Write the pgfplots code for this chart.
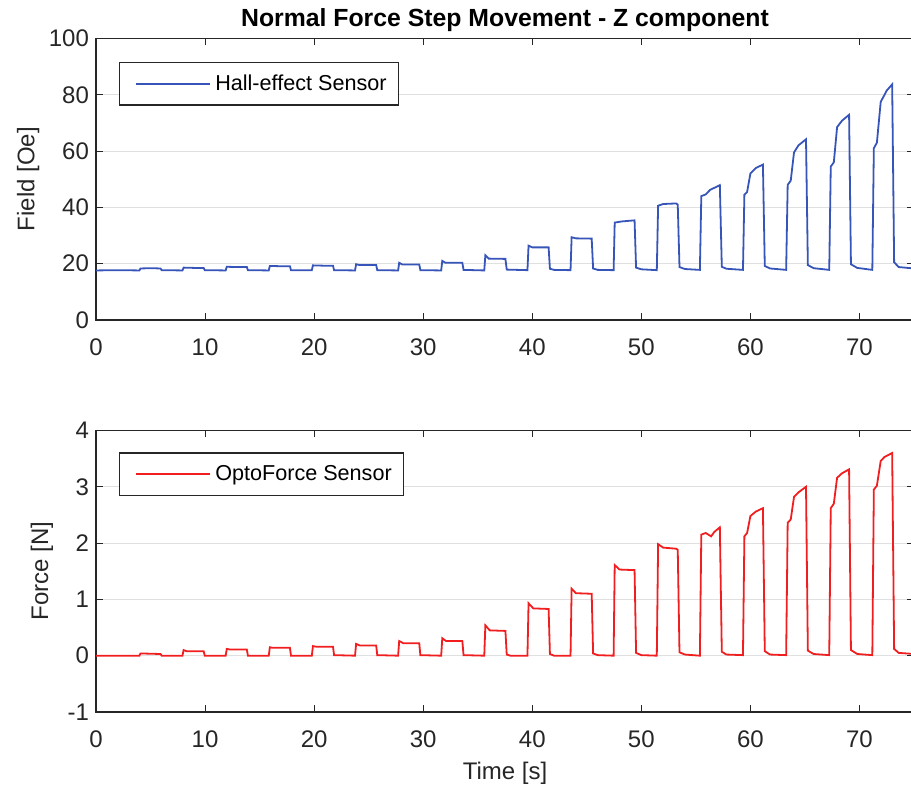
\documentclass[border=0pt]{standalone}
\usepackage{fontspec}
\setmainfont{Liberation Sans}
\usepackage{pgfplots}
\usepackage{pgfplotstable}
\pgfplotsset{compat=1.18}

\definecolor{axgray}{gray}{0.15}
\definecolor{gridgray}{gray}{0.88}
\definecolor{hallblue}{RGB}{55,85,185}
\definecolor{optored}{RGB}{240,30,30}

% Hall-effect sensor, field [Oe]
\pgfplotstableread{
t v
0 17.6
2 17.7
3.98 17.6
4.08 18.3
5.0 18.4
5.92 18.3
6.02 17.7
7.93 17.6
8.03 18.6
9.0 18.5
9.87 18.5
9.97 17.7
11.89 17.6
11.99 18.9
13.0 18.8
13.83 18.8
13.93 17.7
15.84 17.6
15.94 19.2
16.9 19.1
17.78 19.1
17.88 17.7
19.79 17.7
19.89 19.4
20.8 19.3
21.73 19.3
21.83 17.7
23.75 17.6
23.85 19.8
24.2 19.5
25.69 19.5
25.79 17.7
27.70 17.6
27.8 20.3
28.1 19.7
29.64 19.7
29.74 17.7
31.65 17.6
31.75 21.0
32.05 20.3
33.59 20.3
33.7 17.8
35.60 17.6
35.70 23.0
36.0 21.8
37.54 21.7
37.66 17.9
39.56 17.7
39.66 26.4
40.0 25.8
41.50 25.8
41.62 18.2
42.0 17.8
43.51 17.7
43.61 29.4
44.0 29.0
45.45 28.9
45.58 18.3
46.0 17.8
47.46 17.7
47.56 34.6
48.2 35.0
49.38 35.4
49.52 18.6
50.0 18.0
51.42 17.7
51.54 40.6
52.0 41.2
53.2 41.4
53.34 41.0
53.5 18.8
54.0 18.1
55.37 17.8
55.50 44.0
55.9 44.6
56.3 46.2
57.2 47.9
57.38 18.9
57.8 18.2
59.32 17.8
59.45 44.5
59.7 45.5
60.0 52.0
60.5 54.0
61.15 55.2
61.32 19.2
61.8 18.3
63.28 17.8
63.42 48.0
63.7 49.5
64.0 59.5
64.4 62.0
65.1 64.2
65.27 19.5
65.8 18.4
67.23 17.8
67.37 54.5
67.65 56.0
67.95 68.5
68.4 70.8
69.05 72.9
69.22 19.8
69.8 18.5
71.18 17.8
71.32 61.0
71.6 63.0
71.95 77.5
72.3 80.0
72.5 81.5
73.0 83.7
73.18 20.5
73.6 18.8
75 18.3
}\hallfield

% OptoForce sensor, force [N]
\pgfplotstableread{
t v
0 0.0
3.98 0.0
4.08 0.04
5.92 0.03
6.02 0.0
7.93 0.0
8.03 0.1
8.3 0.08
9.87 0.08
9.97 0.0
11.89 0.0
11.99 0.12
12.3 0.11
13.83 0.11
13.93 0.0
15.84 0.0
15.94 0.15
16.2 0.14
17.78 0.14
17.88 0.0
19.79 0.0
19.89 0.17
20.2 0.16
21.73 0.16
21.83 0.01
23.75 0.0
23.85 0.21
24.2 0.18
25.69 0.18
25.79 0.01
27.70 0.0
27.8 0.26
28.2 0.22
29.64 0.22
29.74 0.01
31.65 0.0
31.75 0.31
32.1 0.26
33.59 0.26
33.7 0.01
35.60 0.0
35.70 0.54
36.1 0.45
37.54 0.44
37.66 0.02
38.0 0.0
39.56 0.0
39.66 0.93
40.1 0.84
41.50 0.83
41.62 0.03
42.0 0.0
43.51 0.0
43.61 1.19
44.0 1.11
45.45 1.1
45.58 0.04
46.0 0.01
47.46 0.0
47.56 1.61
48.0 1.53
49.38 1.52
49.52 0.05
50.0 0.01
51.42 0.0
51.54 1.98
52.0 1.92
53.2 1.9
53.34 1.88
53.5 0.06
54.0 0.02
55.37 0.0
55.50 2.15
55.9 2.18
56.4 2.12
56.7 2.2
57.2 2.28
57.38 0.07
57.8 0.02
59.32 0.01
59.45 2.12
59.7 2.18
60.0 2.48
60.5 2.56
61.15 2.62
61.32 0.08
61.8 0.02
63.28 0.01
63.42 2.36
63.7 2.42
64.0 2.82
64.4 2.9
65.1 3.0
65.27 0.09
65.8 0.03
67.23 0.01
67.37 2.62
67.65 2.7
67.95 3.16
68.4 3.24
69.05 3.31
69.22 0.1
69.8 0.03
71.18 0.01
71.32 2.95
71.6 3.02
71.95 3.46
72.3 3.53
73.0 3.6
73.18 0.12
73.6 0.05
75 0.03
}\optoforce

\pgfplotsset{
  mstyle/.style={
    scale only axis, width=409pt, height=140.75pt,
    xmin=0, xmax=75, xtick={0,10,...,70},
    axis line style={axgray, line width=0.6pt},
    tick style={axgray, line width=0.5pt},
    tick align=inside, major tick length=3.5pt,
    ymajorgrids, grid style={gridgray, line width=0.5pt},
    ticklabel style={font=\fontsize{12}{14}\selectfont, text=axgray},
    xticklabel style={yshift=-6pt},
    /pgf/number format/assume math mode=true,
    label style={font=\fontsize{12}{14}\selectfont, text=axgray},
    legend cell align=left,
    legend style={draw=axgray, line width=0.6pt,
      font=\fontsize{10.8}{12}\selectfont, inner xsep=4pt, inner ysep=4pt},
    legend image code/.code={\path (-4pt,0pt); \draw[##1] (0pt,0pt) -- (37pt,0pt);},
  }
}

\begin{document}
\begin{tikzpicture}
\begin{axis}[mstyle, at={(0,196pt)},
    ymin=0, ymax=100, ytick={0,20,...,100},
    ylabel={Field [Oe]},
    ylabel style={at={(axis description cs:-0.083,0.5)}, anchor=center},
    title={Normal Force Step Movement - Z component},
    title style={font=\bfseries\fontsize{12.4}{14}\selectfont,
      at={(axis description cs:0.5,1)}, anchor=base, yshift=-0.25pt},
    legend style={at={(0.028,0.917)}, anchor=north west},
  ]
\addplot[hallblue, line width=0.9pt] table[x=t, y=v] {\hallfield};
\addlegendentry{Hall-effect Sensor}
\end{axis}
\begin{axis}[mstyle, at={(0,0)},
    ymin=-1, ymax=4, ytick={-1,0,...,4},
    ylabel={Force [N]},
    ylabel style={at={(axis description cs:-0.066,0.5)}, anchor=center},
    xlabel={Time [s]},
    xlabel style={at={(axis description cs:0.5,0)}, anchor=center, yshift=-30.5pt},
    legend style={at={(0.028,0.922)}, anchor=north west},
  ]
\addplot[optored, line width=0.9pt] table[x=t, y=v] {\optoforce};
\addlegendentry{OptoForce Sensor}
\end{axis}
\pgfresetboundingbox
\path[use as bounding box] (-48pt,-41.5pt) rectangle (407.5pt,356pt);
\end{tikzpicture}
\end{document}
